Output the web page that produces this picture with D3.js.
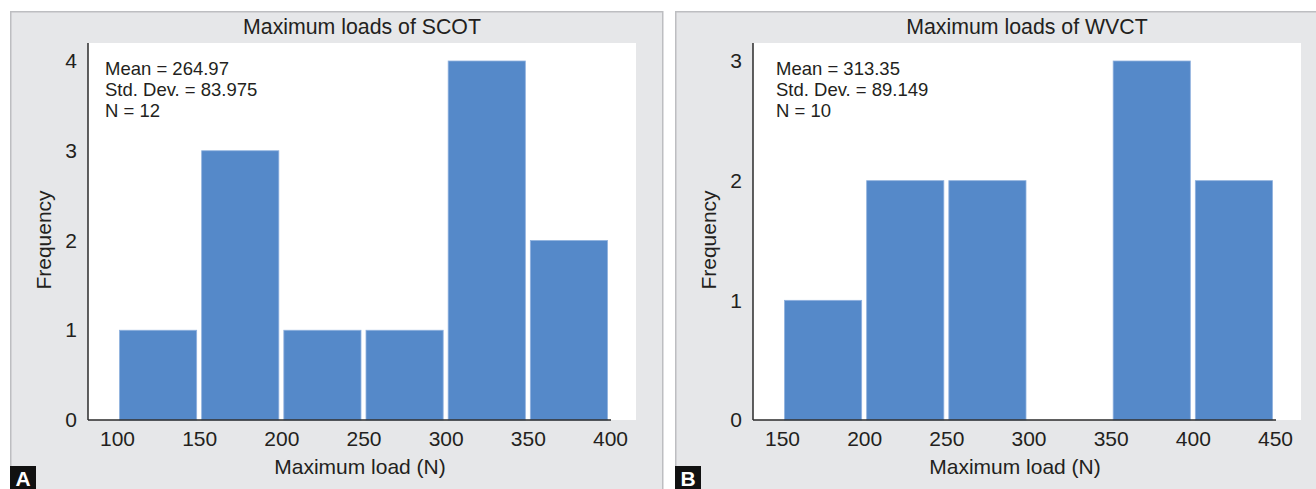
<!DOCTYPE html>
<html>
<head>
<meta charset="utf-8">
<script src="https://cdn.jsdelivr.net/npm/d3@7/dist/d3.min.js"></script>
<style>
  html, body { margin: 0; padding: 0; background: #ffffff; }
  svg { display: block; font-family: "Liberation Sans", Arial, sans-serif; }
</style>
</head>
<body>
<svg id="chart" width="1316" height="489"></svg>
<script>
// Histogram data: bin edges and counts per panel
const binEdgesA = [100, 150, 200, 250, 300, 350, 400];
const countsA = [1, 3, 1, 1, 4, 2];
const xTicksA = [100, 150, 200, 250, 300, 350, 400];
const yTicksA = [0, 1, 2, 3, 4];
const statsA = ["Mean = 264.97", "Std. Dev. = 83.975", "N = 12"];
const titleA = "Maximum loads of SCOT";

const binEdgesB = [150, 200, 250, 300, 350, 400, 450];
const countsB = [1, 2, 2, 0, 3, 2];
const xTicksB = [150, 200, 250, 300, 350, 400, 450];
const yTicksB = [0, 1, 2, 3];
const statsB = ["Mean = 313.35", "Std. Dev. = 89.149", "N = 10"];
const titleB = "Maximum loads of WVCT";

const xLabel = "Maximum load (N)";
const yLabel = "Frequency";

const svg = d3.select("#chart");
const textColor = "#231f20";
const barColor = "#5589c9";

function drawPanel(cfg) {
  const g = svg.append("g").attr("transform", `translate(${cfg.left},0)`);

  // grey panel frame
  g.append("rect")
    .attr("x", 0.75).attr("y", 11.75)
    .attr("width", cfg.panelWidth).attr("height", 500)
    .attr("fill", "#e6e7e9")
    .attr("stroke", "#bdbec1").attr("stroke-width", 1.5);

  const plotLeft = 78, plotTop = 43, plotW = 548, plotBottom = 420;

  // white plotting area
  g.append("rect")
    .attr("x", plotLeft).attr("y", plotTop)
    .attr("width", plotW).attr("height", plotBottom - plotTop)
    .attr("fill", "#ffffff");

  const edges = cfg.edges;
  const x = d3.scaleLinear()
    .domain([edges[0], edges[edges.length - 1]])
    .range([plotLeft + 29, plotLeft + 522]);
  const y = d3.scaleLinear()
    .domain([0, d3.max(cfg.yTicks)])
    .range([plotBottom, 61]);

  const bins = cfg.counts.map((c, i) => ({ x0: edges[i], x1: edges[i + 1], n: c }));

  g.append("g").selectAll("rect")
    .data(bins.filter(d => d.n > 0))
    .join("rect")
    .attr("x", d => x(d.x0) + 2.5)
    .attr("width", d => x(d.x1) - x(d.x0) - 5)
    .attr("y", d => y(d.n))
    .attr("height", d => y(0) - y(d.n))
    .attr("fill", barColor)
    .attr("stroke", "#8fb1de")
    .attr("stroke-width", 0.8);

  // axis lines
  g.append("line")
    .attr("x1", plotLeft).attr("x2", plotLeft)
    .attr("y1", plotTop).attr("y2", plotBottom)
    .attr("stroke", "#2b2b2b").attr("stroke-width", 1.5);
  g.append("line")
    .attr("x1", plotLeft).attr("x2", x(edges[edges.length - 1]) + 1)
    .attr("y1", plotBottom).attr("y2", plotBottom)
    .attr("stroke", "#2b2b2b").attr("stroke-width", 1.5);

  // x tick labels
  const xAxis = g.append("g")
    .attr("transform", `translate(0,${plotBottom})`)
    .call(d3.axisBottom(x).tickValues(cfg.xTicks).tickSize(0).tickPadding(11).tickFormat(d3.format("d")));
  xAxis.select(".domain").remove();
  xAxis.selectAll("text")
    .attr("font-family", "Liberation Sans, Arial, sans-serif")
    .attr("font-size", 21).attr("fill", textColor);

  // y tick labels
  const yAxis = g.append("g")
    .attr("transform", `translate(${plotLeft},0)`)
    .call(d3.axisLeft(y).tickValues(cfg.yTicks).tickSize(0).tickPadding(11).tickFormat(d3.format("d")));
  yAxis.select(".domain").remove();
  yAxis.selectAll("text")
    .attr("font-family", "Liberation Sans, Arial, sans-serif")
    .attr("font-size", 21).attr("fill", textColor);

  // title
  g.append("text")
    .attr("x", plotLeft + plotW / 2).attr("y", 34)
    .attr("text-anchor", "middle")
    .attr("font-size", 21.3).attr("fill", textColor)
    .text(cfg.title);

  // axis titles
  g.append("text")
    .attr("x", plotLeft + plotW / 2 + cfg.xLabelShift).attr("y", 474)
    .attr("text-anchor", "middle")
    .attr("font-size", 21).attr("fill", textColor)
    .text(xLabel);
  g.append("text")
    .attr("transform", `translate(41,240) rotate(-90)`)
    .attr("text-anchor", "middle")
    .attr("font-size", 21).attr("fill", textColor)
    .text(yLabel);

  // summary statistics
  g.append("g").selectAll("text")
    .data(cfg.stats)
    .join("text")
    .attr("x", cfg.statsX)
    .attr("y", (d, i) => 75 + i * 20.8)
    .attr("font-size", 18.5).attr("fill", textColor)
    .text(d => d);

  // panel letter
  g.append("rect")
    .attr("x", 0).attr("y", 466)
    .attr("width", 26).attr("height", 23)
    .attr("fill", "#111111");
  g.append("text")
    .attr("x", 13).attr("y", 486)
    .attr("text-anchor", "middle")
    .attr("font-size", 21).attr("font-weight", "bold")
    .attr("fill", "#ffffff")
    .text(cfg.letter);
}

drawPanel({
  left: 10, panelWidth: 652, edges: binEdgesA, counts: countsA,
  xTicks: xTicksA, yTicks: yTicksA, stats: statsA, title: titleA,
  statsX: 95, xLabelShift: -2, letter: "A"
});
drawPanel({
  left: 675, panelWidth: 700, edges: binEdgesB, counts: countsB,
  xTicks: xTicksB, yTicks: yTicksB, stats: statsB, title: titleB,
  statsX: 101, xLabelShift: -12, letter: "B"
});
</script>
</body>
</html>
